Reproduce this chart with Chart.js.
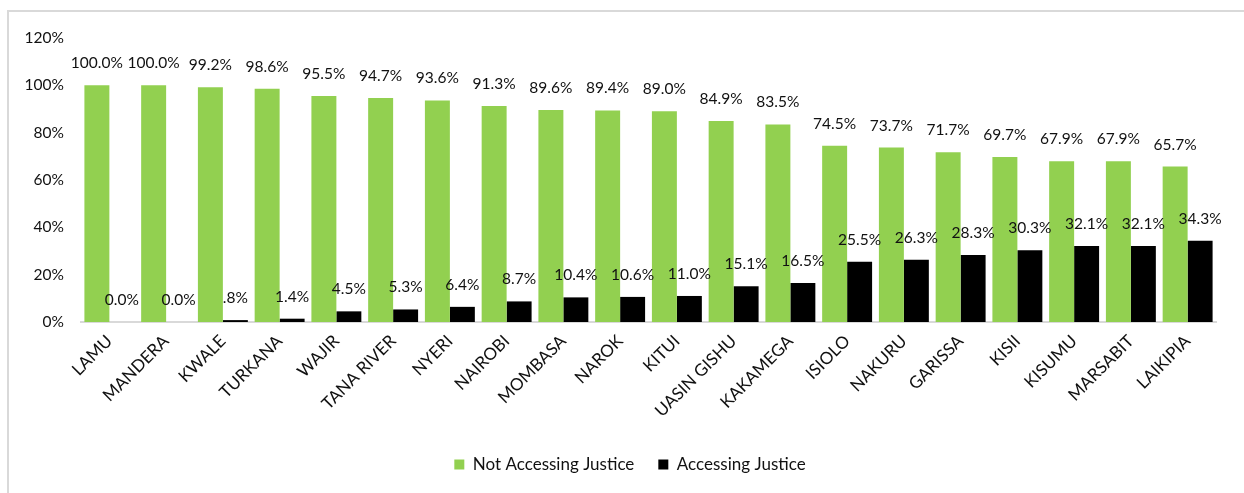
<!DOCTYPE html>
<html>
<head>
<meta charset="utf-8">
<script src="https://cdn.jsdelivr.net/npm/chart.js@4.4.1/dist/chart.umd.min.js"></script>
<style>
  html, body { margin: 0; padding: 0; background: #fff; }
  #wrap { position: relative; width: 1244px; height: 493px; overflow: hidden; }
  #frame { position: absolute; left: 7px; top: 10px; width: 1300px; height: 600px;
           border-left: 2px solid #d9d9d9; border-top: 2px solid #d9d9d9; }
  #chart { position: absolute; left: 0; top: 0; }
</style>
</head>
<body>
<div id="wrap">
  <div id="frame"></div>
  <canvas id="chart" width="1244" height="493"></canvas>
</div>
<script>
// Counties, sorted by share not accessing justice
const counties = ['LAMU', 'MANDERA', 'KWALE', 'TURKANA', 'WAJIR', 'TANA RIVER', 'NYERI', 'NAIROBI',
    'MOMBASA', 'NAROK', 'KITUI', 'UASIN GISHU', 'KAKAMEGA', 'ISIOLO', 'NAKURU', 'GARISSA',
    'KISII', 'KISUMU', 'MARSABIT', 'LAIKIPIA'];

const notAccessing = [100.0, 100.0, 99.2, 98.6, 95.5, 94.7, 93.6, 91.3, 89.6, 89.4, 89.0,
    84.9, 83.5, 74.5, 73.7, 71.7, 69.7, 67.9, 67.9, 65.7];

const accessing = [0.0, 0.0, 0.8, 1.4, 4.5, 5.3, 6.4, 8.7, 10.4, 10.6, 11.0,
    15.1, 16.5, 25.5, 26.3, 28.3, 30.3, 32.1, 32.1, 34.3];

const yTicks = [0, 20, 40, 60, 80, 100, 120];

const FONT = 'Lato, "Open Sans", sans-serif';

// Percent label, e.g. 89.6 -> "89.6%", 0.8 -> ".8%"
function pct(v) {
    let s = v.toFixed(1);
    if (v > 0 && v < 1) s = s.slice(1);
    return s + '%';
}

// Value labels above every bar
const valueLabels = {
    id: 'valueLabels',
    afterDatasetsDraw(chart) {
        const ctx = chart.ctx;
        ctx.save();
        ctx.font = '15.5px ' + FONT;
        ctx.fillStyle = '#111';
        ctx.textAlign = 'center';
        ctx.textBaseline = 'middle';
        chart.data.datasets.forEach((ds, i) => {
            chart.getDatasetMeta(i).data.forEach((bar, j) => {
                ctx.fillText(pct(ds.data[j]), bar.x, bar.y - 22);
            });
        });
        ctx.restore();
    }
};

// Nudge the legend so it sits centred on the whole frame, not just the plot
const legendNudge = {
    id: 'legendNudge',
    afterLayout(chart) {
        if (chart.legend) {
            chart.legend.left += 22;
            chart.legend.right += 22;
        }
    }
};

new Chart(document.getElementById('chart'), {
    type: 'bar',
    data: {
        labels: counties,
        datasets: [
            { label: 'Not Accessing Justice', data: notAccessing, backgroundColor: '#92D050' },
            { label: 'Accessing Justice', data: accessing, backgroundColor: '#000000' }
        ]
    },
    options: {
        responsive: false,
        animation: false,
        events: [],
        layout: { padding: { top: 38, right: 28, left: 0, bottom: 10 } },
        datasets: { bar: { categoryPercentage: 0.88, barPercentage: 1.0 } },
        plugins: {
            tooltip: { enabled: false },
            legend: {
                position: 'bottom',
                labels: {
                    boxWidth: 10,
                    boxHeight: 10,
                    padding: 24,
                    color: '#111',
                    font: { family: FONT, size: 17 }
                }
            }
        },
        scales: {
            x: {
                grid: { display: false, drawTicks: false },
                border: { display: true, color: '#d9d9d9', width: 2 },
                ticks: {
                    color: '#111',
                    font: { family: FONT, size: 17 },
                    minRotation: 45,
                    maxRotation: 45,
                    padding: 9,
                    autoSkip: false
                },
                afterFit(scale) { scale.height = 110; }
            },
            y: {
                min: 0,
                max: 120,
                grid: { display: false, drawTicks: false },
                border: { display: false },
                afterBuildTicks(scale) { scale.ticks = yTicks.map(v => ({ value: v })); },
                ticks: {
                    color: '#111',
                    font: { family: FONT, size: 15.5 },
                    padding: 17,
                    callback: v => v + '%'
                },
                afterFit(scale) { scale.width = 81; }
            }
        }
    },
    plugins: [valueLabels, legendNudge]
});
</script>
</body>
</html>
